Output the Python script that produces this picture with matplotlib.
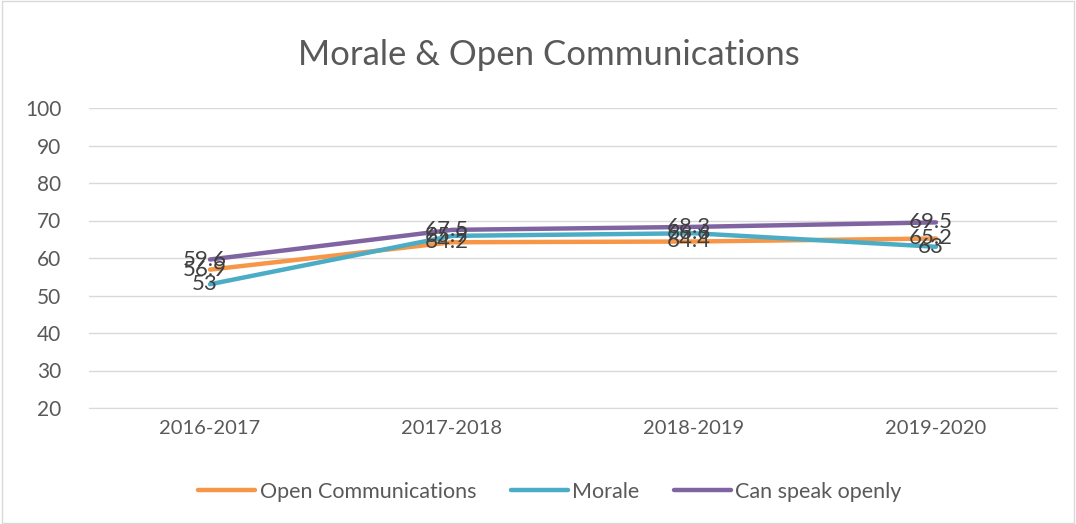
import matplotlib
matplotlib.use('Agg')
import matplotlib.pyplot as plt

plt.rcParams['font.family'] = ['Lato', 'DejaVu Sans']

years = ['2016-2017', '2017-2018', '2018-2019', '2019-2020']
open_comm = [56.9, 64.2, 64.4, 65.2]
morale = [53, 65.9, 66.6, 63]
speak_openly = [59.6, 67.5, 68.3, 69.5]

series = [
    ('Open Communications', open_comm, '#F79646'),
    ('Morale', morale, '#4BACC6'),
    ('Can speak openly', speak_openly, '#8064A2'),
]

fig = plt.figure(figsize=(10.76, 5.24), dpi=100)
ax = fig.add_axes([89 / 1076, 1 - 408 / 524, (1057 - 89) / 1076, 300 / 524])

x = list(range(len(years)))
for name, vals, col in series:
    ax.plot(x, vals, color=col, lw=3.2, label=name, solid_capstyle='round')
for name, vals, col in series:
    for xi, v in zip(x, vals):
        ax.text(xi - 0.02, v, f'{v:g}', ha='center', va='center', fontsize=16, color='#404040')

ax.set_xlim(-0.5, 3.5)
ax.set_ylim(20, 100)
ax.set_yticks(range(20, 101, 10))
ax.set_xticks(x)
ax.set_xticklabels(years)
ax.grid(axis='y', color='#d9d9d9', lw=1)
ax.set_axisbelow(True)
for s in ['top', 'right', 'left']:
    ax.spines[s].set_visible(False)
ax.spines['bottom'].set_color('#d9d9d9')
ax.tick_params(length=0, labelsize=14.5, colors='#595959', pad=9)
ax.tick_params(axis='y', labelsize=15, pad=20)

fig.text(0.51, 1 - 55 / 524, 'Morale & Open Communications', ha='center', va='center',
         fontsize=25, color='#595959')

leg = fig.legend(loc='center', bbox_to_anchor=(0.511, 1 - 492 / 524), ncol=3, frameon=False,
                 fontsize=15.5, handlelength=2.65, handletextpad=0.2, columnspacing=1.6)
for t in leg.get_texts():
    t.set_color('#595959')

fig.patches.append(plt.Rectangle((0.002, 0.002), 0.996, 0.996, transform=fig.transFigure,
                                 fill=False, edgecolor='#d9d9d9', lw=1))

fig.savefig('out.png', dpi=100)
